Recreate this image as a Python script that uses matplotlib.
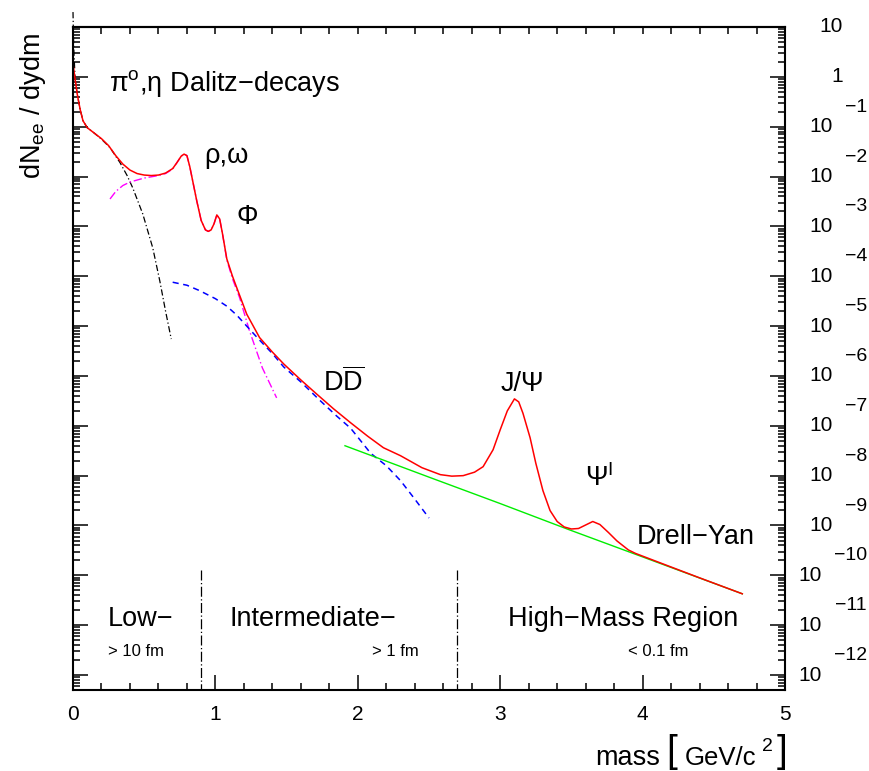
import numpy as np
import matplotlib
matplotlib.use('Agg')
import matplotlib.pyplot as plt

plt.rcParams['font.family'] = ['Liberation Sans', 'DejaVu Sans']
plt.rcParams['mathtext.fontset'] = 'custom'
plt.rcParams['mathtext.rm'] = 'Liberation Sans'
plt.rcParams['mathtext.it'] = 'Liberation Sans:italic'
plt.rcParams['mathtext.bf'] = 'Liberation Sans:bold'

# values: mass in GeV/c^2, log10 of dN/dydm
total_m = [0.00, 0.015, 0.03, 0.05, 0.07, 0.10, 0.15, 0.20, 0.25, 0.30, 0.35, 0.40,
           0.45, 0.50, 0.55, 0.60, 0.65, 0.70, 0.73, 0.76, 0.78, 0.80, 0.82, 0.845,
           0.87, 0.90, 0.93, 0.95, 0.97, 0.99, 1.01, 1.03, 1.05, 1.08, 1.12, 1.15,
           1.22, 1.31, 1.40, 1.48, 1.60, 1.71, 1.83, 1.95, 2.07, 2.18, 2.30, 2.45,
           2.58, 2.66, 2.74, 2.82, 2.88, 2.95, 3.00, 3.05, 3.10, 3.13, 3.16, 3.21,
           3.25, 3.30, 3.35, 3.40, 3.45, 3.50, 3.55, 3.60, 3.65, 3.70, 3.76, 3.82,
           3.90, 3.95, 4.17, 4.40, 4.70]
total_log = [0.26, -0.05, -0.35, -0.65, -0.88, -1.02, -1.13, -1.24, -1.38, -1.58, -1.75, -1.87,
             -1.94, -1.97, -1.98, -1.97, -1.93, -1.84, -1.72, -1.59, -1.55, -1.58, -1.80, -2.15,
             -2.50, -2.88, -3.07, -3.10, -3.07, -2.95, -2.77, -2.85, -3.15, -3.65, -4.00, -4.23,
             -4.76, -5.23, -5.52, -5.76, -6.08, -6.36, -6.66, -6.94, -7.21, -7.44, -7.60, -7.84,
             -7.98, -8.01, -8.00, -7.93, -7.82, -7.48, -7.08, -6.70, -6.46, -6.52, -6.75, -7.24,
             -7.75, -8.30, -8.70, -8.92, -9.03, -9.07, -9.06, -8.99, -8.92, -8.98, -9.14, -9.31,
             -9.49, -9.56, -9.80, -10.05, -10.37]

dalitz_m = [0.00, 0.005, 0.015, 0.03, 0.05, 0.07, 0.10, 0.15, 0.20, 0.26, 0.33, 0.38,
            0.42, 0.49, 0.56, 0.61, 0.65, 0.69]
dalitz_log = [1.30, 0.60, -0.05, -0.35, -0.65, -0.88, -1.02, -1.13, -1.25, -1.42, -1.72, -1.98,
              -2.23, -2.75, -3.43, -4.10, -4.70, -5.26]

vector_m = [0.26, 0.30, 0.35, 0.40, 0.45, 0.50, 0.56, 0.60, 0.65, 0.70, 0.73, 0.76,
            0.78, 0.80, 0.82, 0.845, 0.87, 0.90, 0.93, 0.95, 0.97, 0.99, 1.01, 1.03,
            1.05, 1.08, 1.12, 1.17, 1.24, 1.33, 1.43]
vector_log = [-2.45, -2.30, -2.18, -2.11, -2.07, -2.03, -2.00, -1.98, -1.94, -1.85, -1.72, -1.59,
              -1.55, -1.58, -1.80, -2.15, -2.50, -2.88, -3.07, -3.10, -3.07, -2.95, -2.77, -2.85,
              -3.15, -3.67, -4.05, -4.43, -5.10, -5.84, -6.44]

charm_m = [0.70, 0.80, 0.89, 1.00, 1.08, 1.15, 1.22, 1.30, 1.40, 1.48, 1.60, 1.73,
           1.85, 1.95, 2.09, 2.20, 2.30, 2.40, 2.50]
charm_log = [-4.12, -4.18, -4.29, -4.45, -4.60, -4.78, -5.00, -5.25, -5.55, -5.82, -6.12, -6.48,
             -6.80, -7.05, -7.55, -7.80, -8.10, -8.47, -8.85]

dy_m = [1.91, 2.50, 3.00, 3.47, 4.00, 4.70]
dy_log = [-7.40, -8.03, -8.56, -9.07, -9.63, -10.37]

region_edges = [0.9, 2.7]
decades = list(range(-12, 2))


def lin(v):
    return np.power(10.0, np.array(v))


fig = plt.figure(figsize=(8.69, 7.71), dpi=100)
ax = fig.add_axes([73 / 869, 1 - 690 / 771, 712 / 869, 663 / 771])
ax.set_yscale('log')
ax.set_xlim(0, 5)
ax.set_ylim(10 ** -12.3, 10 ** 1)

ax.plot(dalitz_m, lin(dalitz_log), color='black', lw=0.9, ls=(0, (5, 2, 1, 2)), clip_on=False)
ax.plot(vector_m, lin(vector_log), color='#ff00ff', lw=1.0, ls=(0, (6, 2, 1, 2)))
ax.plot(charm_m, lin(charm_log), color='#0000ff', lw=1.1, ls=(0, (4, 3)))
ax.plot(dy_m, lin(dy_log), color='#00ee00', lw=1.0)
ax.plot(total_m, lin(total_log), color='#ff0000', lw=1.1)

for e in region_edges:
    ax.plot([e, e], [10 ** -9.9, 10 ** -12.3], color='black', lw=0.9, ls=(0, (8, 2, 1, 2)))

# axis styling
for s in ax.spines.values():
    s.set_linewidth(1.5)
ax.set_xticks(np.arange(0, 6, 1))
ax.set_xticks(np.arange(0, 5.01, 0.2), minor=True)
ax.set_yticks(lin(decades))
ax.yaxis.set_minor_locator(matplotlib.ticker.LogLocator(base=10, subs=np.arange(2, 10), numticks=40))
ax.yaxis.set_minor_formatter(matplotlib.ticker.NullFormatter())
ax.set_yticklabels([])
ax.tick_params(which='both', direction='in', top=False, right=True, width=1.1)
ax.tick_params(which='major', length=10.5)
ax.tick_params(which='minor', length=5)
ax.tick_params(axis='x', labelsize=15, pad=11)

top = ax.secondary_xaxis('top')
top.set_xticks(np.arange(0, 5.01, 0.2))
top.tick_params(direction='in', length=5, width=1.1, labeltop=False)
top.spines['top'].set_linewidth(1.5)

# right side labels with raised exponents
lab_tr = ('axes fraction', 'data')
for e in decades:
    if e >= 0:
        txt = '10' if e == 1 else '1'
        ax.annotate(txt, xy=(1, 10.0 ** e), xycoords=lab_tr, xytext=(41.5, 0),
                    textcoords='offset points', ha='right', va='center', fontsize=15)
    else:
        ex = '\u2212' + str(-e)
        off = 34.5 if -e < 10 else 26.5
        ax.annotate('10', xy=(1, 10.0 ** e), xycoords=lab_tr, xytext=(off, 0),
                    textcoords='offset points', ha='right', va='center', fontsize=15)
        ax.annotate(ex, xy=(1, 10.0 ** e), xycoords=lab_tr, xytext=(59, 14),
                    textcoords='offset points', ha='right', va='center', fontsize=14)

fig.text(33 / 869, 1 - 33 / 771, r'dN$_{\mathrm{ee}}$ / dydm', rotation=90,
         ha='center', va='top', fontsize=19.5)

# x title with tall brackets, built piece by piece
fig.text(595 / 869, 1 - 765 / 771, 'mass', ha='left', va='baseline', fontsize=19.5)
fig.text(666 / 869, 1 - 762 / 771, '[', ha='left', va='baseline', fontsize=28)
fig.text(685 / 869, 1 - 765 / 771, 'GeV/c', ha='left', va='baseline', fontsize=18.5)
fig.text(762 / 869, 1 - 751 / 771, '2', ha='left', va='baseline', fontsize=14)
fig.text(777 / 869, 1 - 762 / 771, ']', ha='left', va='baseline', fontsize=28)

# annotations
big = 19.5
ax.text(0.25, 10 ** -0.14, '$\\mathrm{\\pi^{o}}$,$\\mathrm{\\eta}$ Dalitz\u2212decays',
        ha='left', va='center', fontsize=big)
ax.text(0.92, 10 ** -1.58, '\u03c1,\u03c9', ha='left', va='center', fontsize=big)
ax.text(1.15, 10 ** -2.81, '\u03a6', ha='left', va='center', fontsize=big)
ax.text(1.755, 10 ** -6.12, r'D$\overline{\mathrm{D}}$', ha='left', va='center', fontsize=big)
ax.text(3.0, 10 ** -6.16, 'J/\u03a8', ha='left', va='center', fontsize=big)
ax.text(3.595, 10 ** -8.04, '\u03a8$^{\\mathrm{I}}$', ha='left', va='center', fontsize=big)
ax.text(3.96, 10 ** -9.23, 'Drell\u2212Yan', ha='left', va='center', fontsize=big)

ax.text(0.246, 10 ** -10.87, 'Low\u2212', ha='left', va='center', fontsize=big)
ax.text(1.10, 10 ** -10.87, 'Intermediate\u2212', ha='left', va='center', fontsize=big)
ax.text(3.055, 10 ** -10.87, 'High\u2212Mass Region', ha='left', va='center', fontsize=big)
ax.text(0.246, 10 ** -11.53, '> 10 fm', ha='left', va='center', fontsize=12)
ax.text(2.10, 10 ** -11.53, '> 1 fm', ha='left', va='center', fontsize=12)
ax.text(3.90, 10 ** -11.53, '< 0.1 fm', ha='left', va='center', fontsize=12)

fig.savefig('out.png', dpi=100)
